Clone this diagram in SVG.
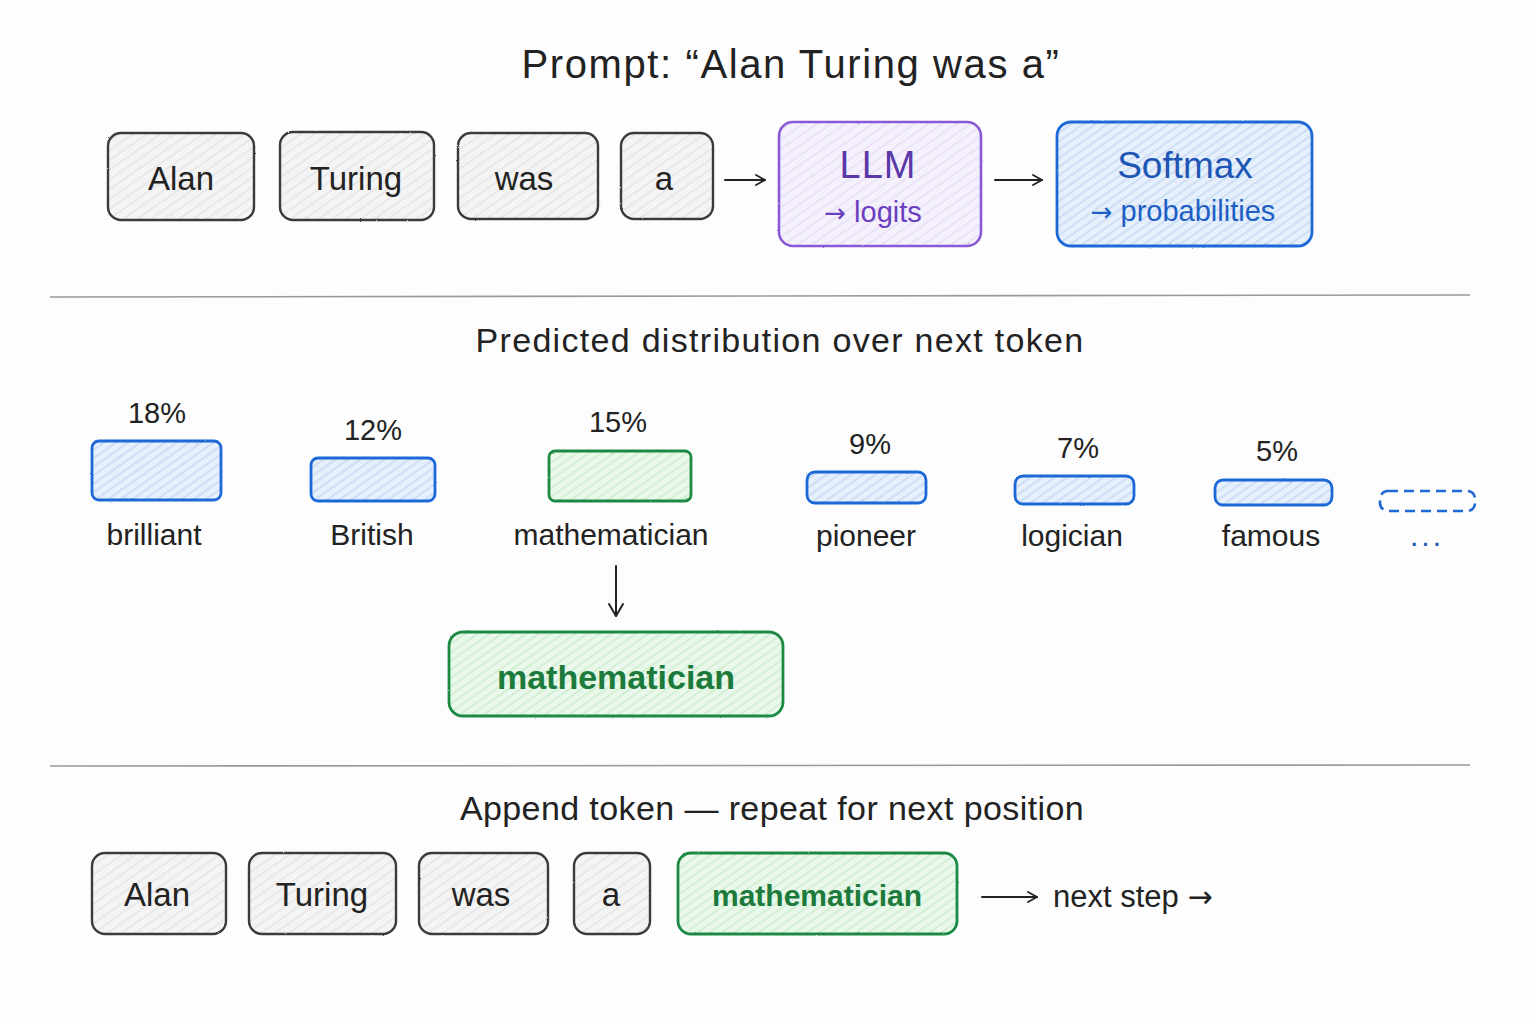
<svg xmlns="http://www.w3.org/2000/svg" width="1536" height="1024" viewBox="0 0 1536 1024">
  <defs>
    <!-- pencil-like hatching fills -->
    <pattern id="hatchGray" width="8" height="8" patternUnits="userSpaceOnUse" patternTransform="rotate(-35)">
      <rect width="8" height="8" fill="#f4f4f4"/>
      <line x1="0" y1="2" x2="8" y2="2" stroke="#dcdcdc" stroke-width="1"/>
    </pattern>
    <pattern id="hatchPurple" width="8" height="8" patternUnits="userSpaceOnUse" patternTransform="rotate(-35)">
      <rect width="8" height="8" fill="#f4f0fc"/>
      <line x1="0" y1="2" x2="8" y2="2" stroke="#e0d6f5" stroke-width="1"/>
    </pattern>
    <pattern id="hatchBlue" width="7" height="7" patternUnits="userSpaceOnUse" patternTransform="rotate(-35)">
      <rect width="7" height="7" fill="#e6effc"/>
      <line x1="0" y1="2" x2="7" y2="2" stroke="#bcd3f3" stroke-width="1.2"/>
    </pattern>
    <pattern id="hatchGreen" width="7" height="7" patternUnits="userSpaceOnUse" patternTransform="rotate(-35)">
      <rect width="7" height="7" fill="#e9f8ea"/>
      <line x1="0" y1="2" x2="7" y2="2" stroke="#c4ebc8" stroke-width="1.2"/>
    </pattern>
    <filter id="rough" x="-5%" y="-5%" width="110%" height="110%">
      <feTurbulence type="fractalNoise" baseFrequency="0.6" numOctaves="2" seed="3" result="n"/>
      <feDisplacementMap in="SourceGraphic" in2="n" scale="1.6"/>
    </filter>
    <marker id="arrow" viewBox="0 0 12 12" refX="10" refY="6" markerWidth="12" markerHeight="12" markerUnits="userSpaceOnUse" orient="auto">
      <path d="M1 1 L10 6 L1 11" fill="none" stroke="#222" stroke-width="1.8" stroke-linecap="round" stroke-linejoin="round"/>
    </marker>
    <marker id="arrowL" viewBox="0 0 16 16" refX="14" refY="8" markerWidth="16" markerHeight="16" markerUnits="userSpaceOnUse" orient="auto">
      <path d="M2 1 L14 8 L2 15" fill="none" stroke="#222" stroke-width="2" stroke-linecap="round" stroke-linejoin="round"/>
    </marker>
  </defs>
  <style>
    text { font-family: "Liberation Sans", "DejaVu Sans", sans-serif; fill: #222; }
    .arr { font-family: "DejaVu Sans", sans-serif; }
    .title { font-size: 36px; text-anchor: middle; }
    .tok { font-size: 33px; text-anchor: middle; }
    .pct { font-size: 29px; text-anchor: middle; }
    .lbl { font-size: 30px; text-anchor: middle; }
    .gray { fill: url(#hatchGray); stroke: #3a3a3a; stroke-width: 2.4; filter: url(#rough); }
    .purple { fill: url(#hatchPurple); stroke: #8a5ad6; stroke-width: 2.6; filter: url(#rough); }
    .blue { fill: url(#hatchBlue); stroke: #1d68d6; stroke-width: 2.8; filter: url(#rough); }
    .green { fill: url(#hatchGreen); stroke: #1f8a45; stroke-width: 2.8; filter: url(#rough); }
    .dashed { fill: none; stroke: #1d68d6; stroke-width: 2.6; stroke-dasharray: 10 6; }
    .divider { stroke: #9a9a9a; stroke-width: 1.6; fill: none; }
    .conn { stroke: #222; stroke-width: 2; fill: none; stroke-linecap: round; }
  </style>

  <rect width="1536" height="1024" fill="#fdfdfd"/>

  <!-- section 1: prompt -->
  <text class="title" x="791" y="78" style="font-size:40px;letter-spacing:1.6px">Prompt: “Alan Turing was a”</text>

  <g id="tok-alan"><rect class="gray" x="108" y="133" width="146" height="87" rx="13"/><text class="tok" x="181" y="190">Alan</text></g>
  <g id="tok-turing"><rect class="gray" x="280" y="132" width="154" height="88" rx="13"/><text class="tok" x="356" y="190">Turing</text></g>
  <g id="tok-was"><rect class="gray" x="458" y="133" width="140" height="86" rx="13"/><text class="tok" x="524" y="190">was</text></g>
  <g id="tok-a"><rect class="gray" x="621" y="133" width="92" height="86" rx="13"/><text class="tok" x="664" y="190">a</text></g>

  <g id="llm">
    <rect class="purple" x="779" y="122" width="202" height="124" rx="14"/>
    <text x="878" y="178" style="font-size:38px;text-anchor:middle;fill:#5b37a8;letter-spacing:1px">LLM</text>
    <text x="873" y="222" style="font-size:29px;text-anchor:middle;fill:#6a3fbf"><tspan class="arr" style="fill:#6a3fbf;font-size:26px">→</tspan> logits</text>
  </g>
  <g id="softmax">
    <rect class="blue" x="1057" y="122" width="255" height="124" rx="14"/>
    <text x="1185" y="178" style="font-size:37px;text-anchor:middle;fill:#1c55b4">Softmax</text>
    <text x="1183" y="221" style="font-size:29px;text-anchor:middle;fill:#1d5ec4"><tspan class="arr" style="fill:#1d5ec4;font-size:26px">→</tspan> probabilities</text>
  </g>

  <line class="divider" x1="50" y1="297" x2="1470" y2="295"/>

  <!-- section 2: distribution -->
  <text class="title" x="780" y="352" style="font-size:34px;letter-spacing:1.3px">Predicted distribution over next token</text>

  <g id="bar-brilliant">
    <text class="pct" x="157" y="423">18%</text>
    <rect class="blue" x="92" y="441" width="129" height="59" rx="7"/>
    <text class="lbl" x="154" y="545">brilliant</text>
  </g>
  <g id="bar-british">
    <text class="pct" x="373" y="440">12%</text>
    <rect class="blue" x="311" y="458" width="124" height="43" rx="7"/>
    <text class="lbl" x="372" y="545">British</text>
  </g>
  <g id="bar-mathematician">
    <text class="pct" x="618" y="432">15%</text>
    <rect class="green" x="549" y="451" width="142" height="50" rx="6"/>
    <text class="lbl" x="611" y="545">mathematician</text>
  </g>
  <g id="bar-pioneer">
    <text class="pct" x="870" y="454">9%</text>
    <rect class="blue" x="807" y="472" width="119" height="31" rx="8"/>
    <text class="lbl" x="866" y="546">pioneer</text>
  </g>
  <g id="bar-logician">
    <text class="pct" x="1078" y="458">7%</text>
    <rect class="blue" x="1015" y="476" width="119" height="28" rx="8"/>
    <text class="lbl" x="1072" y="546">logician</text>
  </g>
  <g id="bar-famous">
    <text class="pct" x="1277" y="461">5%</text>
    <rect class="blue" x="1215" y="480" width="117" height="25" rx="8"/>
    <text class="lbl" x="1271" y="546">famous</text>
  </g>
  <g id="bar-more">
    <rect class="dashed" x="1380" y="491" width="95" height="20" rx="8"/>
    <text class="lbl" x="1427" y="546" style="fill:#1d55b4;letter-spacing:3px">...</text>
  </g>

  <g id="chosen">
    <rect class="green" x="449" y="632" width="334" height="84" rx="14"/>
    <text x="616" y="689" style="font-size:34px;font-weight:bold;text-anchor:middle;fill:#1b7a3c">mathematician</text>
  </g>

  <line class="divider" x1="50" y1="766" x2="1470" y2="765"/>

  <!-- section 3: append -->
  <text class="title" x="772" y="820" style="font-size:34px;letter-spacing:0.4px">Append token — repeat for next position</text>

  <g id="out-alan"><rect class="gray" x="92" y="853" width="134" height="81" rx="13"/><text class="tok" x="157" y="906">Alan</text></g>
  <g id="out-turing"><rect class="gray" x="249" y="853" width="147" height="81" rx="13"/><text class="tok" x="322" y="906">Turing</text></g>
  <g id="out-was"><rect class="gray" x="419" y="853" width="129" height="81" rx="13"/><text class="tok" x="481" y="906">was</text></g>
  <g id="out-a"><rect class="gray" x="574" y="853" width="76" height="81" rx="13"/><text class="tok" x="611" y="906">a</text></g>
  <g id="out-mathematician">
    <rect class="green" x="678" y="853" width="279" height="81" rx="13"/>
    <text x="817" y="906" style="font-size:30px;font-weight:bold;text-anchor:middle;fill:#1b7a3c">mathematician</text>
  </g>
  <text x="1053" y="907" style="font-size:31px">next step <tspan class="arr" style="font-size:30px">→</tspan></text>

  <!-- connectors -->
  <g id="connectors">
    <line class="conn" x1="725" y1="180" x2="765" y2="180" marker-end="url(#arrow)"/>
    <line class="conn" x1="995" y1="180" x2="1042" y2="180" marker-end="url(#arrow)"/>
    <line class="conn" x1="616" y1="566" x2="616" y2="616" marker-end="url(#arrowL)"/>
    <line class="conn" x1="982" y1="897" x2="1037" y2="897" marker-end="url(#arrow)"/>
  </g>
</svg>
